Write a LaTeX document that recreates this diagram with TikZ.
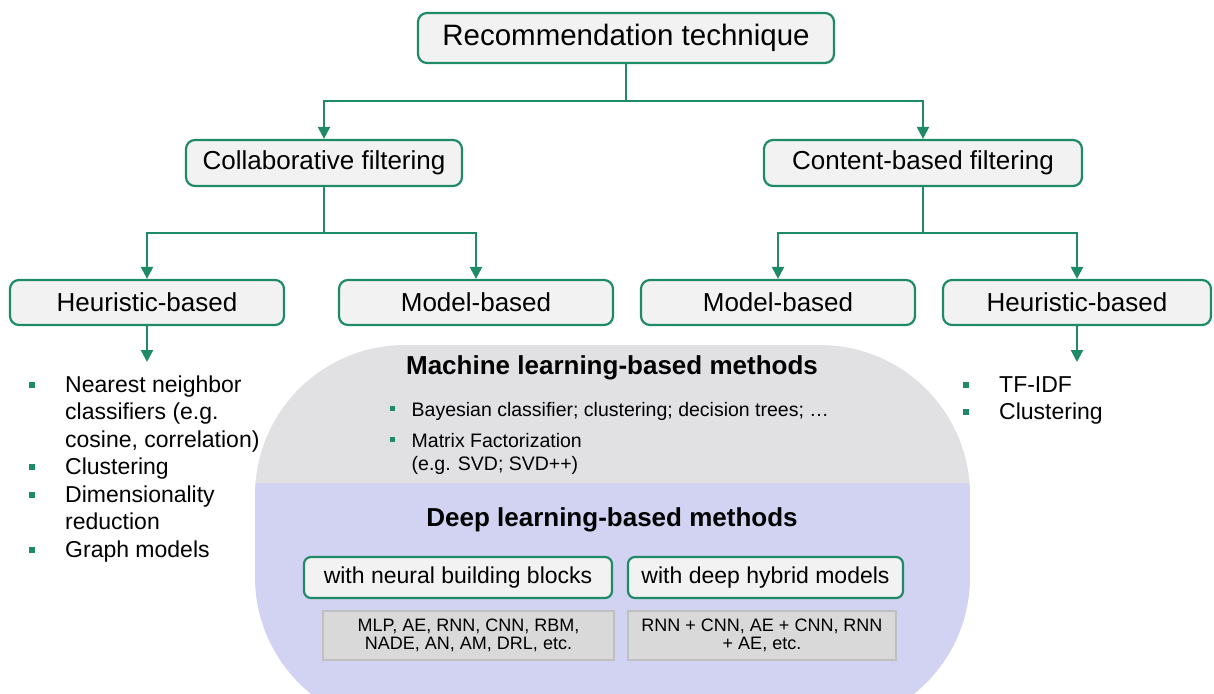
\documentclass[tikz,border=0pt]{standalone}
\usepackage{fontspec}
\setmainfont{Liberation Sans}
\usepackage{tikz}
\usetikzlibrary{arrows.meta,positioning}
\usepackage{xcolor}
\definecolor{rtgreen}{RGB}{31,138,104}
\definecolor{rtboxfill}{RGB}{242,242,242}
\definecolor{rtmlgray}{RGB}{225,225,228}
\definecolor{rtdllav}{RGB}{210,210,242}
\definecolor{rtcellfill}{RGB}{217,217,217}
\definecolor{rtcellline}{RGB}{192,192,192}
\tikzstyle{arrow} = [line width=2.2pt,-{Triangle[width=12pt,length=12pt]},color=rtgreen]
\tikzstyle{link} = [line width=2.2pt,color=rtgreen]
\tikzstyle{techbox} = [rectangle, rounded corners=9pt, draw=rtgreen, fill=rtboxfill, line width=2.2pt, inner sep=0pt, text centered]
\tikzstyle{levelbox} = [techbox, minimum height=46pt, font=\fontsize{26}{30}\selectfont]
\tikzstyle{dlbox} = [techbox, rounded corners=7pt, minimum height=41pt, font=\fontsize{23}{27}\selectfont]
\tikzstyle{cellbox} = [rectangle, draw=rtcellline, fill=rtcellfill, line width=1.5pt, inner sep=0pt, minimum height=49pt, align=center, font=\fontsize{18}{18}\selectfont]
\tikzstyle{listitem} = [anchor=base west, inner sep=0pt, align=left, font=\fontsize{23}{27.5}\selectfont]
\tikzstyle{mlitem} = [anchor=base west, inner sep=0pt, align=left, font=\fontsize{19.5}{23}\selectfont]
\tikzstyle{bulletsq} = [rectangle, fill=rtgreen, inner sep=0pt, minimum size=6pt]

\begin{document}
\begin{tikzpicture}[x=1pt, y=-1pt]
\useasboundingbox (0,0) rectangle (1214,693);
% Method families
\begin{scope}
\clip[rounded corners=150pt] (255,345) rectangle (970,727);
\fill[rtmlgray] (255,345) rectangle (970,483);
\fill[rtdllav] (255,483) rectangle (970,727);
\end{scope}
% Tree
\node[techbox, minimum width=416pt, minimum height=50pt, font=\fontsize{29.5}{34}\selectfont] (root) at (626,38) {Recommendation technique};
\node[levelbox, minimum width=276pt] (collab) at (324,163) {Collaborative filtering};
\node[levelbox, minimum width=318pt] (content) at (923,163) {Content-based filtering};
\node[levelbox, minimum width=274pt, minimum height=45pt] (heurL) at (147,302.5) {Heuristic-based};
\node[levelbox, minimum width=274pt, minimum height=45pt, right=52.8pt of heurL] (modelL) {Model-based};
\node[levelbox, minimum width=274pt, minimum height=45pt, right=25.8pt of modelL] (modelR) {Model-based};
\node[levelbox, minimum width=268pt, minimum height=45pt, right=25.8pt of modelR] (heurR) {Heuristic-based};
% Connectors
\draw[link] (root.south) -- ++(0,37) coordinate (rootsplit);
\draw[arrow] (rootsplit) -| (collab.north);
\draw[arrow] (rootsplit) -| (content.north);
\draw[link] (collab.south) -- ++(0,46) coordinate (collabsplit);
\draw[arrow] (collabsplit) -| (heurL.north);
\draw[arrow] (collabsplit) -| (modelL.north);
\draw[link] (content.south) -- ++(0,46) coordinate (contentsplit);
\draw[arrow] (contentsplit) -| (modelR.north);
\draw[arrow] (contentsplit) -| (heurR.north);
\coordinate (heurLend) at (heurL.south |- 0,362);
\coordinate (heurRend) at (heurR.south |- 0,362);
\draw[arrow] (heurL.south) -- (heurLend);
\draw[arrow] (heurR.south) -- (heurRend);
% Heuristic lists (base = last line)
\node[listitem] (hl1) at (65,447) {Nearest neighbor\\classifiers (e.g.\\cosine, correlation)};
\node[listitem] (hl2) at (65,474.5) {Clustering};
\node[listitem] (hl3) at (65,529.5) {Dimensionality\\reduction};
\node[listitem] (hl4) at (65,557) {Graph models};
\node[bulletsq] (hb1) at (32,384.5) {};
\node[bulletsq] (hb2) at (32,467) {};
\node[bulletsq] (hb3) at (32,494.5) {};
\node[bulletsq] (hb4) at (32,549.5) {};
\node[listitem] (hr1) at (999,392) {TF-IDF};
\node[listitem] (hr2) at (999,419.5) {Clustering};
\node[bulletsq] (hrb1) at (966,384.5) {};
\node[bulletsq] (hrb2) at (966,412) {};
% Machine learning
\node[font=\bfseries\fontsize{26}{30}\selectfont] (mltitle) at (612,368) {Machine learning-based methods};
\node[mlitem] (ml1) at (411.5,416) {Bayesian classifier; clustering; decision trees; \dots};
\node[mlitem] (ml2) at (411.5,470) {Matrix Factorization\\(e.g. SVD; SVD++)};
\node[bulletsq, minimum size=4.5pt] (mlb1) at (392.5,408.5) {};
\node[bulletsq, minimum size=4.5pt] (mlb2) at (392.5,439.5) {};
% Deep learning
\node[font=\bfseries\fontsize{26}{30}\selectfont] (dltitle) at (612,520) {Deep learning-based methods};
\node[dlbox, minimum width=308pt] (neural) at (458,577.5) {with neural building blocks};
\node[dlbox, minimum width=275pt, right=13.8pt of neural] (hybrid) {with deep hybrid models};
\node[cellbox, minimum width=291pt] (neuralcell) at (468.5,635.5) {MLP, AE, RNN, CNN, RBM,\\NADE, AN, AM, DRL, etc.};
\node[cellbox, minimum width=268pt] (hybridcell) at (762,635.5) {RNN + CNN, AE + CNN, RNN\\+ AE, etc.};
\end{tikzpicture}
\end{document}
